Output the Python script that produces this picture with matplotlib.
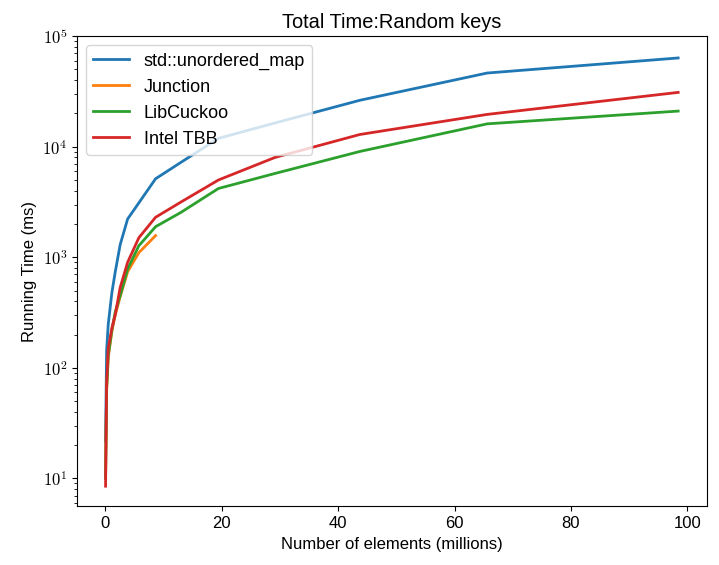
import math
import matplotlib.pyplot as plt
from matplotlib.ticker import FuncFormatter

plt.rcParams['font.family'] = ['Liberation Sans', 'DejaVu Sans']
plt.rcParams['mathtext.fontset'] = 'cm'
plt.rcParams['font.size'] = 12

# elements in millions
sizes = [0.05, 0.23, 0.51, 1.14, 1.71, 2.56, 3.84, 5.76, 8.64, 12.96, 19.44, 29.16, 43.74, 65.61, 98.42]
junction_sizes = [0.05, 0.23, 0.51, 1.14, 1.71, 2.56, 3.84, 5.76, 8.64]

# running time (ms)
unordered_map = [21.7, 142, 248, 480, 736, 1300, 2220, 3100, 5130, 7200, 11900, 16400, 26300, 46400, 63500]
junction = [10.5, 62, 125, 215, 300, 440, 740, 1100, 1570]
libcuckoo = [10, 65, 130, 220, 320, 450, 783, 1270, 1890, 2540, 4190, 5730, 9060, 16100, 21000]
intel_tbb = [8.5, 71, 150, 230, 302, 533, 900, 1500, 2300, 3150, 5000, 8000, 12900, 19600, 31000]

fig = plt.figure(figsize=(7.19, 5.65), dpi=100)
ax = fig.add_axes([0.107, 0.104, 0.876, 0.832])

ax.plot(sizes, unordered_map, color='#1f77b4', lw=2, label='std::unordered_map')
ax.plot(junction_sizes, junction, color='#ff7f0e', lw=2, label='Junction')
ax.plot(sizes, libcuckoo, color='#2ca02c', lw=2, label='LibCuckoo')
ax.plot(sizes, intel_tbb, color='#d62728', lw=2, label='Intel TBB')

ax.set_yscale('log')
ax.set_ylim(5.6, 1e5)
ax.yaxis.set_major_formatter(FuncFormatter(lambda v, p: r'$10^{%d}$' % round(math.log10(v))))
ax.set_title('Total Time:Random keys')
ax.set_xlabel('Number of elements (millions)')
ax.set_ylabel('Running Time (ms)')
ax.legend(loc='upper left', fontsize=13)

fig.savefig('out.png')
